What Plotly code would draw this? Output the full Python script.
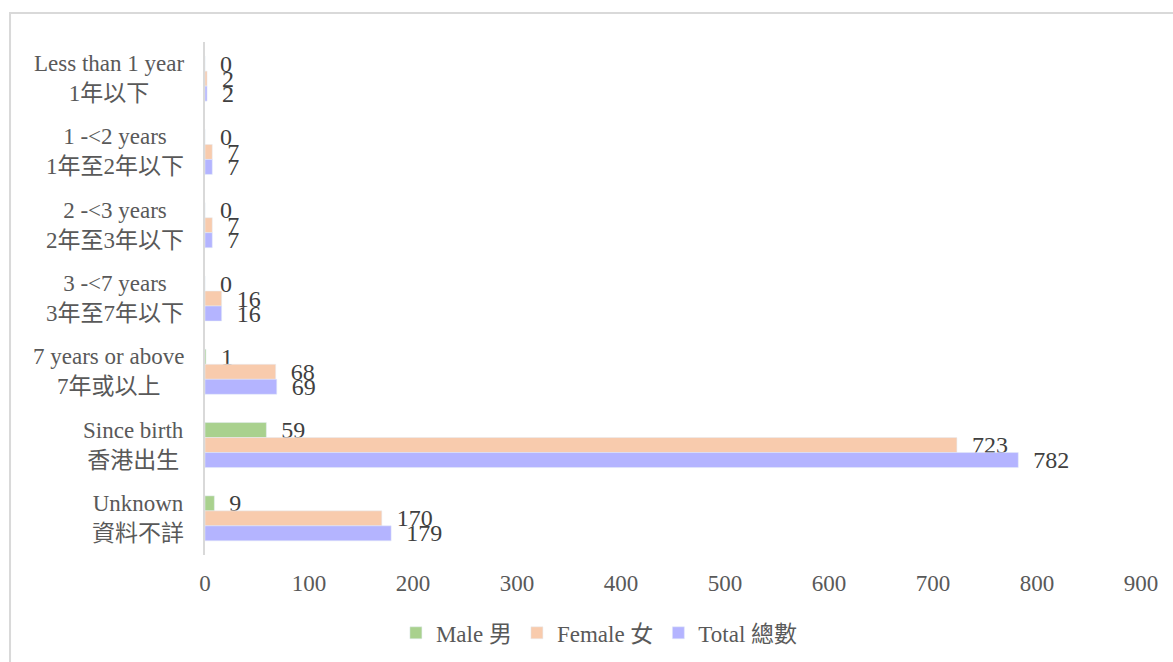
import plotly.graph_objects as go

categories = [
    "Less than 1 year<br>1年以下",
    "1 -<2 years<br>1年至2年以下",
    "2 -<3 years<br>2年至3年以下",
    "3 -<7 years<br>3年至7年以下",
    "7 years or above<br>7年或以上",
    "Since birth<br>香港出生",
    "Unknown<br>資料不詳",
]
male = [0, 0, 0, 0, 1, 59, 9]
female = [2, 7, 7, 16, 68, 723, 170]
total = [2, 7, 7, 16, 69, 782, 179]

series = [
    ("Male 男", male, "#A9D18E"),
    ("Female 女", female, "#F8CBAD"),
    ("Total 總數", total, "#B4B4FF"),
]

FONT = "Liberation Serif, Times New Roman, Noto Sans CJK TC, serif"

fig = go.Figure()
for name, vals, color in series:
    fig.add_trace(go.Bar(
        name=name,
        y=categories,
        x=vals,
        orientation="h",
        marker=dict(color=color),
        text=vals,
        texttemplate="\u00a0\u00a0%{x}",
        textposition="outside",
        constraintext="none",
        cliponaxis=False,
        textfont=dict(family=FONT, size=24, color="#404040"),
    ))

# category labels as centred annotations
for cat in categories:
    fig.add_annotation(
        x=0, xref="paper", xanchor="right", xshift=-19,
        y=cat, yref="y", yanchor="middle",
        text=cat, showarrow=False, align="center",
        font=dict(family=FONT, size=23, color="#595959"),
    )

fig.update_layout(
    barmode="group",
    bargap=0.386,
    bargroupgap=0,
    width=1173,
    height=662,
    margin=dict(l=205, r=32, t=42, b=107),
    plot_bgcolor="white",
    paper_bgcolor="white",
    font=dict(family=FONT, size=23, color="#595959"),
    legend=dict(
        orientation="h",
        xref="container", yref="container",
        x=0.511, xanchor="center",
        y=0.044, yanchor="middle",
        font=dict(family=FONT, size=23, color="#595959"),
        itemwidth=30,
    ),
    xaxis=dict(
        range=[0, 900],
        dtick=100,
        showgrid=False,
        zeroline=False,
        showline=False,
        ticks="outside",
        ticklen=7,
        tickcolor="rgba(0,0,0,0)",
        tickfont=dict(family=FONT, size=23, color="#595959"),
    ),
    yaxis=dict(
        autorange="reversed",
        showticklabels=False,
        showgrid=False,
        showline=True,
        linecolor="#D9D9D9",
        linewidth=2,
        zeroline=False,
    ),
    shapes=[dict(
        type="rect", xref="paper", yref="paper",
        x0=-0.2083, x1=1.06, y0=-0.25, y1=1.0565,
        line=dict(color="#D9D9D9", width=2),
        fillcolor="rgba(0,0,0,0)",
    )],
)

fig.write_html("out.html", config={"displayModeBar": False},
               post_script="document.body.style.margin='0';")
